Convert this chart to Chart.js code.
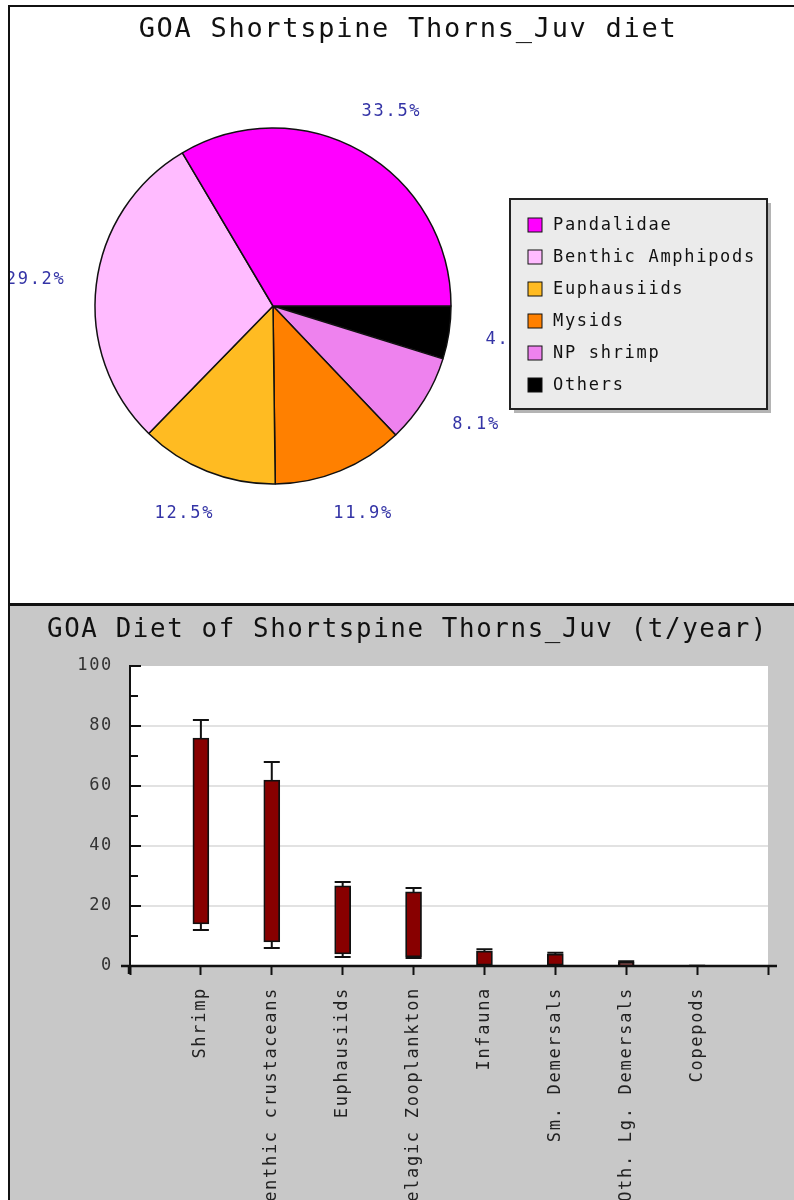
<!DOCTYPE html>
<html>
<head>
<meta charset="utf-8">
<script src="https://cdn.jsdelivr.net/npm/chart.js@4.4.1/dist/chart.umd.min.js"></script>
<style>
  html, body { margin: 0; padding: 0; background: #fff; overflow: hidden; width: 794px; height: 1200px; }
  #top { position: absolute; left: 8px; top: 5px; width: 786px; height: 598px; box-sizing: border-box;
         border-top: 2px solid #111; border-left: 2px solid #111; background: #fff; }
  #bottom { position: absolute; left: 8px; top: 603px; width: 786px; height: 597px; box-sizing: border-box;
            border-top: 3px solid #111; border-left: 2px solid #111; background: #c8c8c8; }
  canvas { position: absolute; left: 0; top: 0; }
</style>
</head>
<body>
<div id="top"><canvas id="pieChart" width="784" height="596"></canvas></div>
<div id="bottom"><canvas id="barChart" width="784" height="594"></canvas></div>
<script>
// Datos del pastel
const pieLabels = ['Pandalidae', 'Benthic Amphipods', 'Euphausiids', 'Mysids', 'NP shrimp', 'Others'];
const pieShares = [33.5, 29.2, 12.5, 11.9, 8.1, 4.8];
const pieColors = ['#ff00ff', '#ffbbff', '#ffbb22', '#ff8000', '#ee82ee', '#000000'];

// Datos de las barras (t/year)
const categories = ['Shrimp', 'Benthic crustaceans', 'Euphausiids', 'Pelagic Zooplankton',
  'Infauna', 'Sm. Demersals', 'Oth. Lg. Demersals', 'Copepods'];
const barLow  = [14, 8, 4, 3, 0.3, 0.3, 0.1, 0];
const barHigh = [76, 62, 26.7, 24.7, 5, 4, 1.2, 0.05];
const errLow  = [12, 6, 3, 2.7, 0, 0.1, 0, 0];
const errHigh = [82, 68, 28, 26, 5.6, 4.4, 1.6, 0.1];

const FONT = '"DejaVu Sans Mono", monospace';
const SMALL = 17;
const BIG = 27;

// Espaciado de letras para imitar la fuente ancha
const spacing = {
  id: 'spacing',
  beforeUpdate(chart) { chart.ctx.letterSpacing = '1.7px'; },
  beforeDraw(chart) { chart.ctx.letterSpacing = '1.7px'; }
};

// Leyenda lateral como caja del layout
const sideLegend = {
  id: 'sideLegend',
  beforeInit(chart) {
    const box = {
      position: 'right', weight: 0, fullSize: false, options: {},
      left: 0, top: 0, right: 0, bottom: 0, width: 0, height: 0,
      isHorizontal() { return false; },
      update(maxW, maxH) { this.width = 270; this.height = maxH; },
      draw() {},
      _layers() { return [{ z: 1, draw: () => drawLegend(chart, box) }]; }
    };
    Chart.layouts.addBox(chart, box);
  }
};

function drawLegend(chart, box) {
  const ctx = chart.ctx;
  const w = 257, h = 210;
  const x = box.left + 34;
  const y = (box.top + box.bottom) / 2 - 107;
  ctx.save();
  ctx.fillStyle = '#b4b4b4';
  ctx.fillRect(x + 4, y + 4, w, h);
  ctx.fillStyle = '#ebebeb';
  ctx.fillRect(x, y, w, h);
  ctx.strokeStyle = '#222';
  ctx.lineWidth = 2;
  ctx.strokeRect(x, y, w, h);
  ctx.font = SMALL + 'px ' + FONT;
  ctx.textBaseline = 'middle';
  ctx.textAlign = 'left';
  pieLabels.forEach((lbl, i) => {
    const cy = y + 26 + 32 * i;
    ctx.fillStyle = pieColors[i];
    ctx.fillRect(x + 18, cy - 7, 14, 14);
    ctx.strokeStyle = '#111';
    ctx.lineWidth = 1;
    ctx.strokeRect(x + 18, cy - 7, 14, 14);
    ctx.fillStyle = '#111';
    ctx.fillText(lbl, x + 43, cy + 1);
  });
  ctx.restore();
}

// Etiquetas de porcentaje fuera del pastel (en elipse alrededor)
const pctLabels = {
  id: 'pctLabels',
  afterDatasetsDraw(chart) {
    const ctx = chart.ctx;
    const meta = chart.getDatasetMeta(0);
    const values = chart.data.datasets[0].data;
    ctx.save();
    ctx.font = SMALL + 'px ' + FONT;
    ctx.fillStyle = '#3434a6';
    ctx.textAlign = 'center';
    ctx.textBaseline = 'middle';
    meta.data.forEach((arc, i) => {
      const mid = (arc.startAngle + arc.endAngle) / 2;
      const txt = values[i].toFixed(1) + '%';
      const rx = arc.outerRadius * 1.343;
      const ry = arc.outerRadius * 1.258;
      ctx.fillText(txt, arc.x + Math.cos(mid) * rx, arc.y + Math.sin(mid) * ry);
    });
    ctx.restore();
  }
};

// El pastel va en sentido antihorario desde las 3, así que se invierte el orden
const revShares = pieShares.slice().reverse();
const revLabels = pieLabels.slice().reverse();
const revColors = pieColors.slice().reverse();

new Chart(document.getElementById('pieChart'), {
  type: 'pie',
  data: {
    labels: revLabels,
    datasets: [{
      data: revShares,
      backgroundColor: revColors,
      borderColor: '#111',
      borderWidth: 1.5,
      radius: 178,
      rotation: 90
    }]
  },
  options: {
    responsive: false,
    animation: false,
    events: [],
    layout: { padding: { left: 60, right: 48, top: 0, bottom: 46.6 } },
    plugins: {
      legend: { display: false },
      tooltip: { enabled: false },
      title: {
        display: true,
        text: 'GOA Shortspine Thorns_Juv diet',
        color: '#111',
        font: { family: FONT, size: BIG, weight: 'normal' },
        padding: { top: 6.8, bottom: 9.4 }
      }
    }
  },
  plugins: [spacing, sideLegend, pctLabels]
});

// Fondo blanco del área de trazado
const plotBg = {
  id: 'plotBg',
  beforeDraw(chart) {
    const { ctx, chartArea: a } = chart;
    ctx.save();
    ctx.fillStyle = '#fff';
    ctx.fillRect(a.left, a.top, a.right - a.left, a.bottom - a.top);
    ctx.restore();
  }
};

// Barras de error, marcas interiores del eje Y y prolongación de ejes
const errorBars = {
  id: 'errorBars',
  afterDatasetsDraw(chart) {
    const { ctx, chartArea: a } = chart;
    const yScale = chart.scales.y;
    const meta = chart.getDatasetMeta(0);
    ctx.save();
    ctx.strokeStyle = '#111';
    ctx.lineWidth = 2;
    categories.forEach((c, i) => {
      const bar = meta.data[i + 1];
      if (!bar) return;
      const x = bar.x, half = 8;
      const segs = [[barHigh[i], errHigh[i]], [barLow[i], errLow[i]]];
      segs.forEach(([from, to]) => {
        if (Math.abs(to - from) < 0.05) return;
        const y0 = yScale.getPixelForValue(from);
        const y1 = yScale.getPixelForValue(to);
        ctx.beginPath();
        ctx.moveTo(x, y0); ctx.lineTo(x, y1);
        ctx.moveTo(x - half, y1); ctx.lineTo(x + half, y1);
        ctx.stroke();
      });
    });
    yScale.ticks.forEach(t => {
      if (t.value === 0) return;
      const y = yScale.getPixelForValue(t.value);
      const len = t.value % 20 === 0 ? 11 : 8;
      ctx.beginPath();
      ctx.moveTo(a.left, y); ctx.lineTo(a.left + len, y);
      ctx.stroke();
    });
    ctx.lineWidth = 2.5;
    ctx.beginPath();
    ctx.moveTo(a.left - 9, a.bottom); ctx.lineTo(a.right + 9, a.bottom);
    ctx.moveTo(a.left - 1, a.bottom); ctx.lineTo(a.left - 1, a.bottom + 8);
    ctx.stroke();
    ctx.restore();
  }
};

const xLabels = [''].concat(categories, ['']);
const floating = [null].concat(categories.map((c, i) => [barLow[i], barHigh[i]]), [null]);

new Chart(document.getElementById('barChart'), {
  type: 'bar',
  data: {
    labels: xLabels,
    datasets: [{
      data: floating,
      backgroundColor: '#880000',
      borderColor: '#111',
      borderWidth: 1.8,
      borderSkipped: false,
      barThickness: 16
    }]
  },
  options: {
    responsive: false,
    animation: false,
    events: [],
    layout: { padding: { left: 37, right: 26, top: 0, bottom: 0 } },
    plugins: {
      legend: { display: false },
      tooltip: { enabled: false },
      title: {
        display: true,
        text: 'GOA Diet of Shortspine Thorns_Juv (t/year)',
        color: '#111',
        font: { family: FONT, size: BIG, weight: 'normal' },
        padding: { top: 7.8, bottom: 19.8 }
      }
    },
    scales: {
      x: {
        offset: false,
        grid: { offset: false, drawOnChartArea: false, drawTicks: true, tickLength: 9,
                tickColor: '#111', tickWidth: 2, color: '#111' },
        border: { display: true, color: '#111', width: 2 },
        ticks: { autoSkip: false, minRotation: 90, maxRotation: 90, padding: 12,
                 color: '#222', font: { family: FONT, size: SMALL } },
        afterFit: s => { s.height = 234; s.paddingLeft = 0; s.paddingRight = 0; }
      },
      y: {
        min: 0,
        max: 100,
        ticks: {
          stepSize: 10, autoSkip: false, padding: 17, color: '#333',
          font: { family: FONT, size: SMALL },
          callback: v => (v % 20 === 0 ? v : '')
        },
        grid: {
          drawTicks: false,
          lineWidth: 2,
          color: c => (c.tick && c.tick.value % 20 === 0 && c.tick.value > 0 && c.tick.value < 100)
            ? '#e2e2e2' : 'rgba(0,0,0,0)'
        },
        border: { display: true, color: '#111', width: 2 },
        afterFit: s => { s.width = 83; }
      }
    }
  },
  plugins: [spacing, plotBg, errorBars]
});
</script>
</body>
</html>
